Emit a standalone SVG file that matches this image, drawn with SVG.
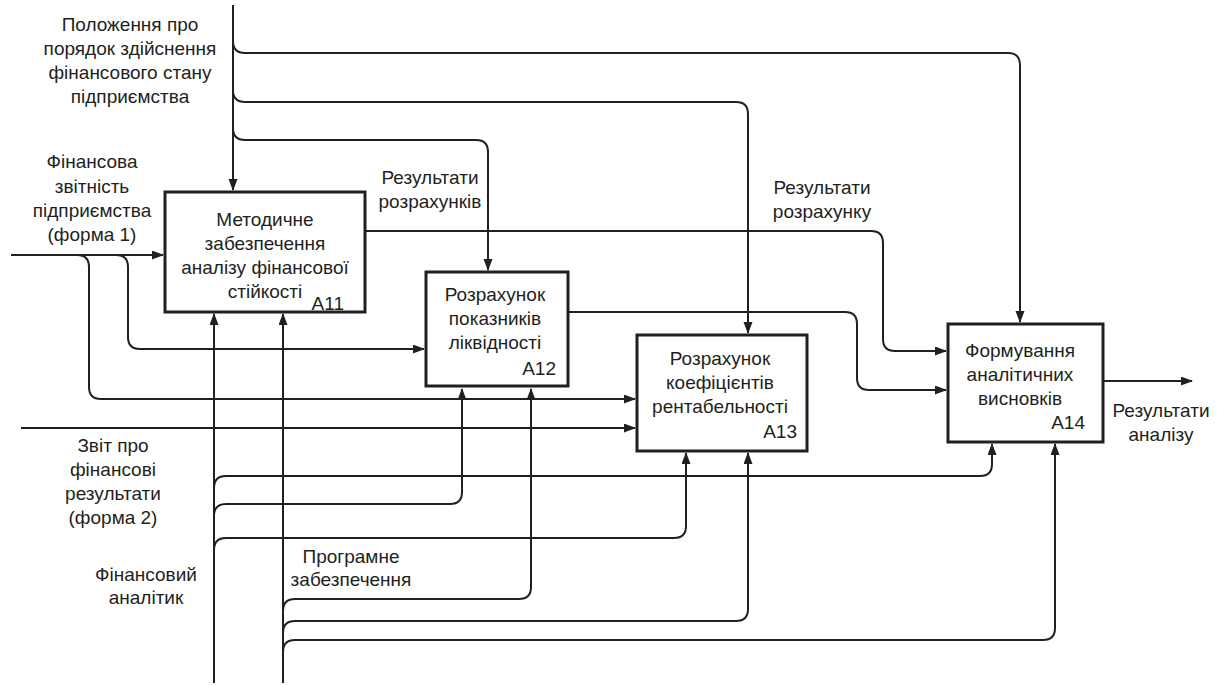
<svg xmlns="http://www.w3.org/2000/svg" width="1219" height="685" viewBox="0 0 1219 685">
  <style>
    .box { fill: #ffffff; stroke: #231f20; stroke-width: 3; }
    .ln { fill: none; stroke: #231f20; stroke-width: 2; }
    .arr { marker-end: url(#ah); }
    text { font-family: "Liberation Sans", Arial, sans-serif; font-size: 19px; fill: #231f20; }
    .c { text-anchor: middle; }
    .r { text-anchor: end; }
  </style>
  <defs>
    <marker id="ah" markerUnits="userSpaceOnUse" markerWidth="12" markerHeight="10" refX="11" refY="4.5" orient="auto">
      <path d="M0,0 L12,4.5 L0,9 Z" fill="#231f20"/>
    </marker>
  </defs>
  <rect width="1219" height="685" fill="#ffffff"/>

  <!-- connectors -->
  <g id="connectors">
    <!-- control: regulation on financial analysis -->
    <path class="ln arr" d="M233,5 V190"/>
    <path class="ln arr" d="M233,41 Q233,53 245,53 H1008 Q1020,53 1020,65 V322"/>
    <path class="ln arr" d="M233,90 Q233,102 245,102 H736 Q748,102 748,114 V333"/>
    <path class="ln arr" d="M233,128 Q233,140 245,140 H476 Q488,140 488,152 V270"/>

    <!-- input: financial statements (form 1) -->
    <path class="ln arr" d="M11,255 H163"/>
    <path class="ln arr" d="M77,255 Q89,255 89,267 V387 Q89,399 101,399 H635"/>
    <path class="ln arr" d="M116,255 Q128,255 128,267 V337 Q128,349 140,349 H424"/>

    <!-- input: report on financial results (form 2) -->
    <path class="ln arr" d="M21,428 H635"/>

    <!-- outputs between activities -->
    <path class="ln arr" d="M365,231 H871 Q883,231 883,243 V339 Q883,351 895,351 H946"/>
    <path class="ln arr" d="M568,312 H845 Q857,312 857,324 V378 Q857,390 869,390 H946"/>
    <path class="ln arr" d="M1103,381 H1192"/>

    <!-- mechanism: financial analyst -->
    <path class="ln arr" d="M214,683 V314"/>
    <path class="ln arr" d="M214,488 Q214,476 226,476 H980 Q992,476 992,464 V444"/>
    <path class="ln arr" d="M214,516 Q214,504 226,504 H450 Q462,504 462,492 V389"/>
    <path class="ln arr" d="M214,550 Q214,538 226,538 H674 Q686,538 686,526 V453"/>

    <!-- mechanism: software -->
    <path class="ln arr" d="M283,683 V314"/>
    <path class="ln arr" d="M283,611 Q283,599 295,599 H519 Q531,599 531,587 V389"/>
    <path class="ln arr" d="M283,633 Q283,621 295,621 H736 Q748,621 748,609 V453"/>
    <path class="ln arr" d="M283,652 Q283,640 295,640 H1043 Q1055,640 1055,628 V444"/>
  </g>

  <!-- activity A11 -->
  <g id="A11">
    <rect class="box" x="165" y="192" width="200" height="120"/>
    <text class="c" x="265" y="226">Методичне</text>
    <text class="c" x="265" y="250">забезпечення</text>
    <text class="c" x="265" y="274">аналізу фінансової</text>
    <text class="c" x="265" y="298">стійкості</text>
    <text class="r" x="344" y="310">A11</text>
  </g>

  <!-- activity A12 -->
  <g id="A12">
    <rect class="box" x="426" y="272" width="142" height="114"/>
    <text class="c" x="495" y="301">Розрахунок</text>
    <text class="c" x="495" y="325">показників</text>
    <text class="c" x="495" y="349">ліквідності</text>
    <text class="r" x="556" y="375">A12</text>
  </g>

  <!-- activity A13 -->
  <g id="A13">
    <rect class="box" x="637" y="335" width="170" height="116"/>
    <text class="c" x="720" y="365">Розрахунок</text>
    <text class="c" x="720" y="389">коефіцієнтів</text>
    <text class="c" x="720" y="413">рентабельності</text>
    <text class="r" x="797" y="438">A13</text>
  </g>

  <!-- activity A14 -->
  <g id="A14">
    <rect class="box" x="948" y="324" width="155" height="118"/>
    <text class="c" x="1020" y="357">Формування</text>
    <text class="c" x="1020" y="381">аналітичних</text>
    <text class="c" x="1020" y="405">висновків</text>
    <text class="r" x="1085" y="429">A14</text>
  </g>

  <!-- arrow labels -->
  <g id="labels">
    <text class="c" x="130" y="31">Положення про</text>
    <text class="c" x="130" y="55">порядок здійснення</text>
    <text class="c" x="130" y="79">фінансового стану</text>
    <text class="c" x="130" y="103">підприємства</text>

    <text class="c" x="92" y="168">Фінансова</text>
    <text class="c" x="92" y="193">звітність</text>
    <text class="c" x="92" y="217">підприємства</text>
    <text class="c" x="92" y="241">(форма 1)</text>

    <text class="c" x="430" y="184">Результати</text>
    <text class="c" x="430" y="208">розрахунків</text>

    <text class="c" x="822" y="194">Результати</text>
    <text class="c" x="822" y="218">розрахунку</text>

    <text class="c" x="1161" y="417">Результати</text>
    <text class="c" x="1161" y="441">аналізу</text>

    <text class="c" x="113" y="452">Звіт про</text>
    <text class="c" x="113" y="476">фінансові</text>
    <text class="c" x="113" y="500">результати</text>
    <text class="c" x="113" y="524">(форма 2)</text>

    <text class="c" x="146" y="581">Фінансовий</text>
    <text class="c" x="146" y="604">аналітик</text>

    <text class="c" x="351" y="563">Програмне</text>
    <text class="c" x="351" y="586">забезпечення</text>
  </g>
</svg>
